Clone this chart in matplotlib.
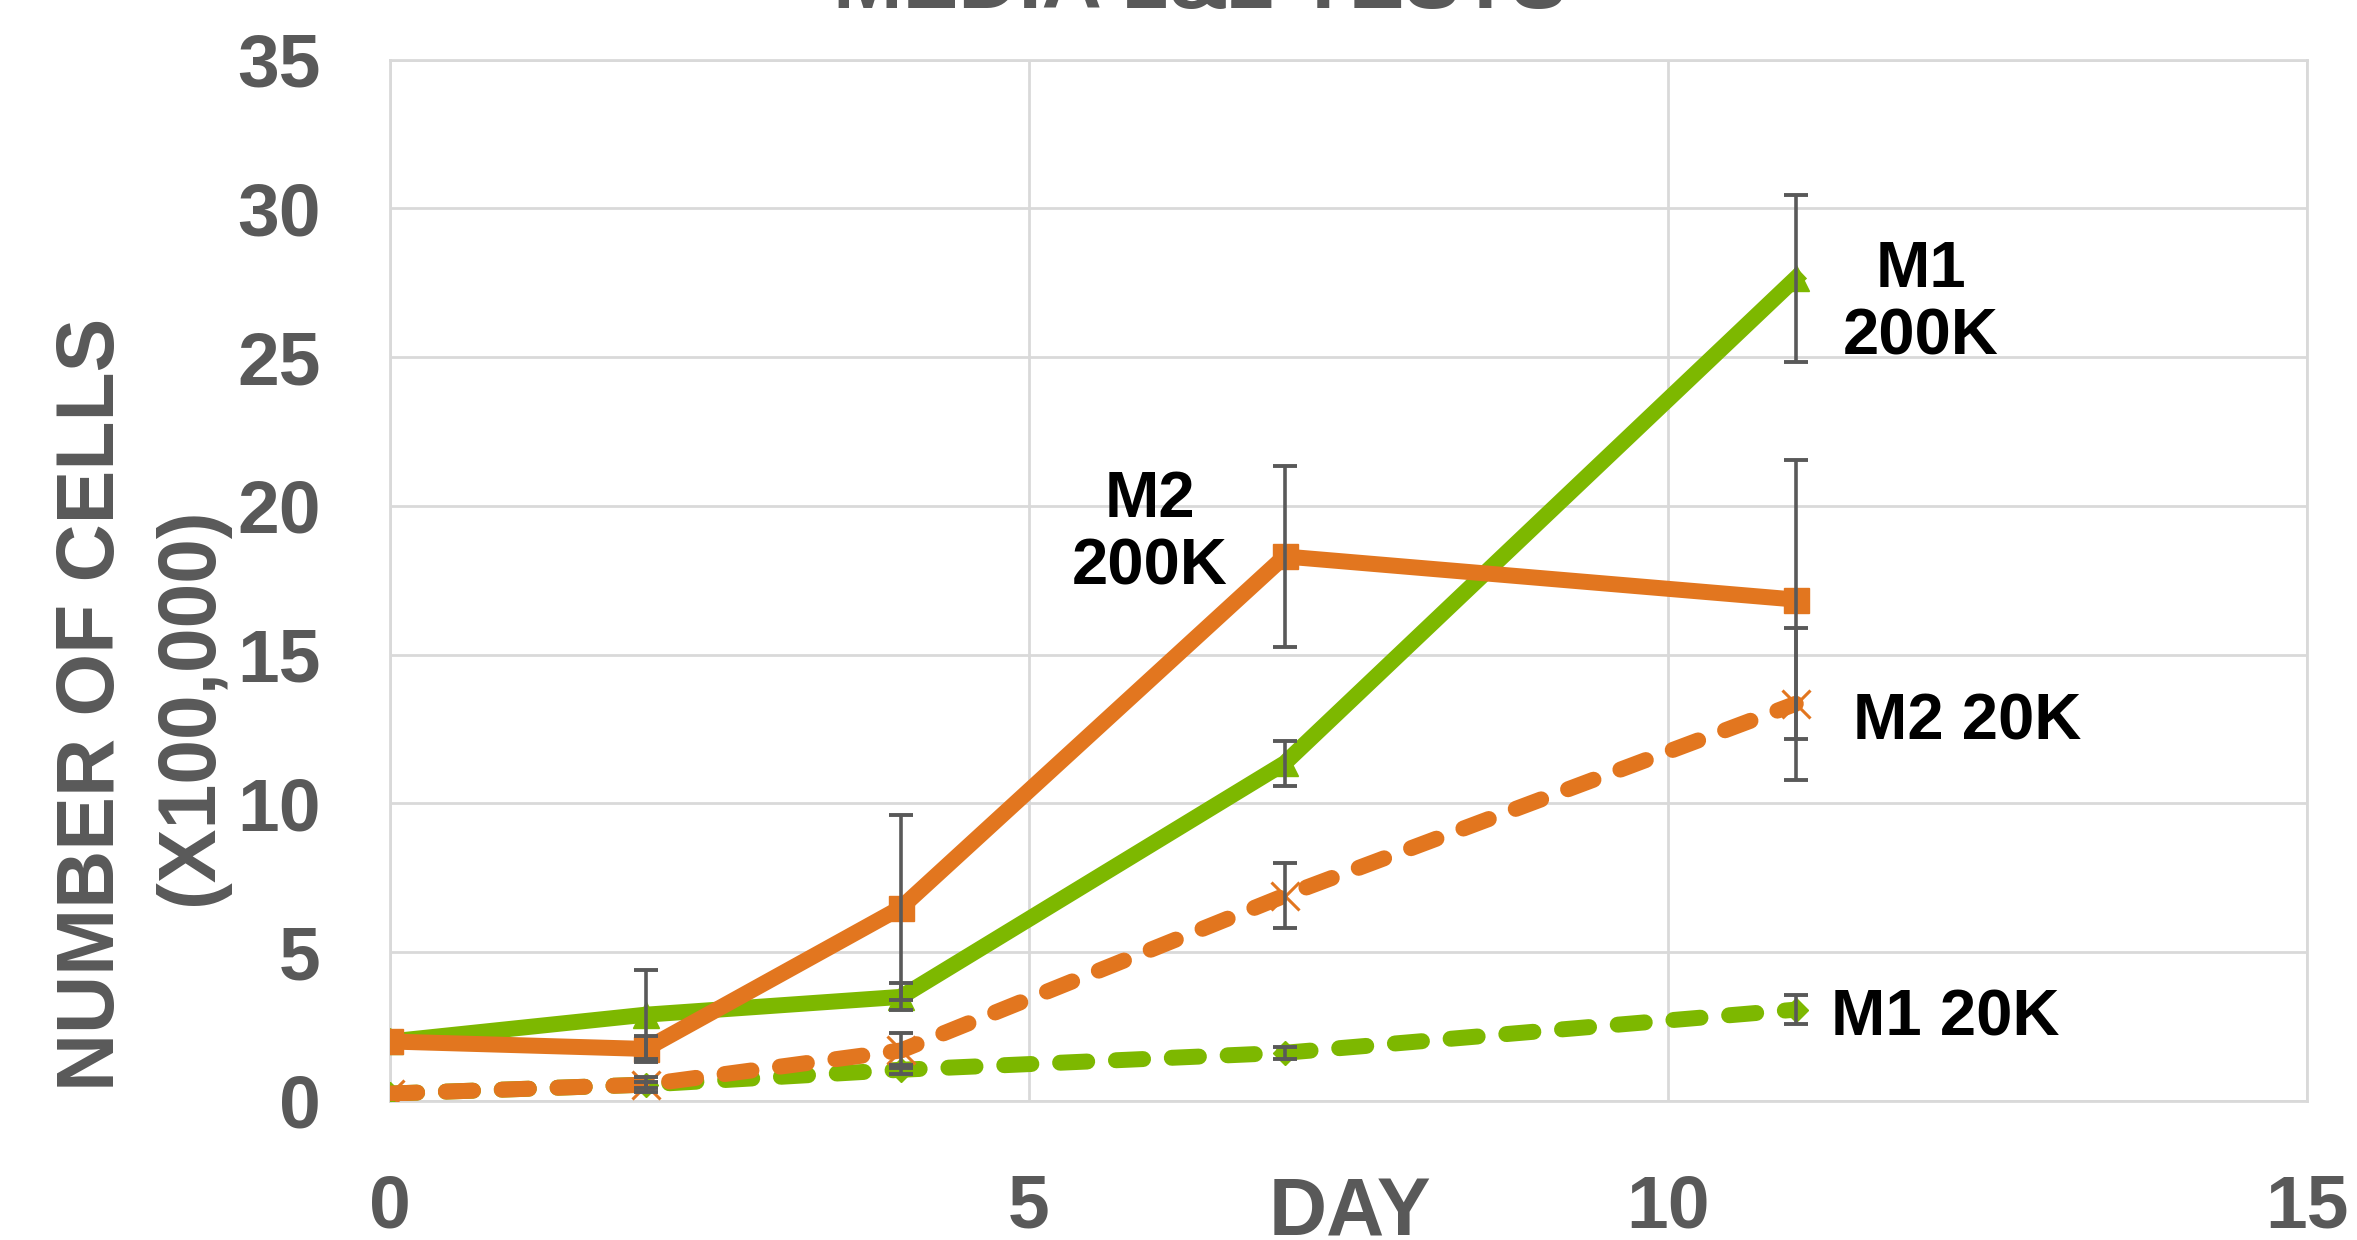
import matplotlib
matplotlib.use("Agg")
import matplotlib.pyplot as plt
import numpy as np

# ---- data ----
days = [0, 2, 4, 7, 11]
m1_200k = [2.0, 2.9, 3.5, 11.35, 27.65]
m1_200k_err = [0, 1.5, 0.45, 0.75, 2.8]
m2_200k = [2.0, 1.75, 6.5, 18.3, 16.85]
m2_200k_err = [0, 0.45, 3.1, 3.05, 4.7]
m1_20k = [0.25, 0.55, 1.05, 1.62, 3.07]
m1_20k_err = [0, 0.1, 0.15, 0.2, 0.48]
m2_20k = [0.25, 0.55, 1.7, 6.9, 13.35]
m2_20k_err = [0, 0.25, 0.6, 1.1, 2.55]

x_ticks = [0, 5, 10, 15]
y_ticks = [0, 5, 10, 15, 20, 25, 30, 35]

title = "MEDIA 1&2 TESTS"
xlabel = "DAY"
ylabel1 = "NUMBER OF CELLS"
ylabel2 = "(X100,000)"

GREEN = "#7DB800"
ORANGE = "#E2761F"
GRAY = "#595959"
GRID = "#D9D9D9"

plt.rcParams['font.family'] = ['Liberation Sans', 'DejaVu Sans']

W, H = 2357, 1240
fig = plt.figure(figsize=(W / 100, H / 100), dpi=100)
ax = fig.add_axes([390 / W, 1 - 1101 / H, (2307 - 390) / W, (1101 - 59.5) / H])

lw = 11.5
dash = (0, (1.7, 1.8))

ax.plot(days, m1_200k, color=GREEN, lw=lw, marker='^', ms=19, zorder=3,
        solid_joinstyle='miter')
ax.plot(days, m2_200k, color=ORANGE, lw=lw, marker='s', ms=18, zorder=4,
        solid_joinstyle='miter')
ax.plot(days, m1_20k, color=GREEN, lw=lw, ls=dash, dash_capstyle='round',
        marker='D', ms=12, zorder=5)
ax.plot(days, m2_20k, color=ORANGE, lw=lw, ls=dash, dash_capstyle='round',
        marker='x', ms=20, mew=2.2, zorder=6)

for vals, errs in [(m1_200k, m1_200k_err), (m2_200k, m2_200k_err),
                   (m1_20k, m1_20k_err), (m2_20k, m2_20k_err)]:
    xs = [d for d, e in zip(days, errs) if e > 0]
    ys = [v for v, e in zip(vals, errs) if e > 0]
    es = [e for e in errs if e > 0]
    ax.errorbar(xs, ys, yerr=es, fmt='none', ecolor=GRAY, elinewidth=2.6,
                capsize=8.5, capthick=2.8, zorder=7)

ax.set_xlim(0, 15)
ax.set_ylim(0, 35)
ax.set_xticks(x_ticks)
ax.set_yticks(y_ticks)
ax.grid(True, color=GRID, lw=2)
ax.set_axisbelow(True)
for s in ax.spines.values():
    s.set_color(GRID)
    s.set_linewidth(2)
ax.tick_params(length=0, labelsize=54, labelcolor=GRAY)
ax.tick_params(axis='y', pad=50)
ax.tick_params(axis='x', pad=52)
for lab in ax.get_xticklabels() + ax.get_yticklabels():
    lab.set_fontweight('bold')

# axis titles
fig.text(1350 / W, 1 - 1214 / H, xlabel, fontsize=58, fontweight='bold',
         color=GRAY, ha='center', va='center')
fig.text(93 / W, 1 - 704 / H, ylabel1, fontsize=58, fontweight='bold',
         color=GRAY, ha='center', va='center', rotation=90)
fig.text(191 / W, 1 - 706 / H, ylabel2, fontsize=58, fontweight='bold',
         color=GRAY, ha='center', va='center', rotation=90)
fig.text(1200 / W, 1 - 8 / H, title, fontsize=60, fontweight='bold',
         color=GRAY, ha='center', va='baseline')

# series labels
fig.text(1921 / W, 1 - 304 / H, "M1\n200K", fontsize=47, fontweight='bold',
         color='black', ha='center', va='center', linespacing=1.15)
fig.text(1150 / W, 1 - 534 / H, "M2\n200K", fontsize=47, fontweight='bold',
         color='black', ha='center', va='center', linespacing=1.15)
fig.text(1853 / W, 1 - 723 / H, "M2 20K", fontsize=47, fontweight='bold',
         color='black', ha='left', va='center')
fig.text(1831 / W, 1 - 1018 / H, "M1 20K", fontsize=47, fontweight='bold',
         color='black', ha='left', va='center')

fig.savefig("out.png", dpi=100)
